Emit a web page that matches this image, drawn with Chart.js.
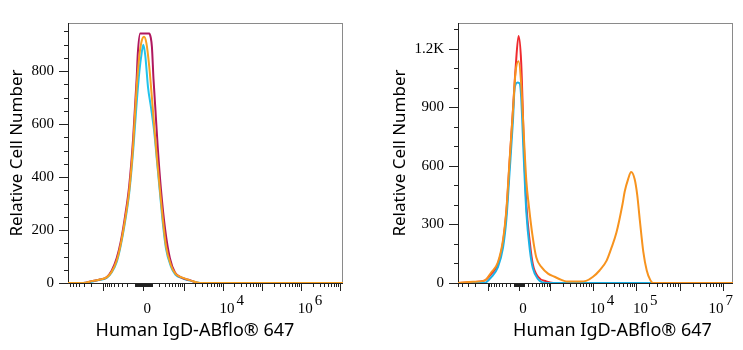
<!DOCTYPE html>
<html>
<head>
<meta charset="utf-8">
<script src="https://cdn.jsdelivr.net/npm/chart.js@4.4.1/dist/chart.umd.min.js"></script>
<style>
  body { margin: 0; background: #fff; width: 743px; height: 350px; overflow: hidden; }
  .pane { position: absolute; top: 0; height: 350px; }
  #left-pane { left: 0; width: 373px; }
  #right-pane { left: 373px; width: 370px; }
</style>
</head>
<body>
<div class="pane" id="left-pane"><canvas id="leftChart"></canvas></div>
<div class="pane" id="right-pane"><canvas id="rightChart"></canvas></div>
<script>
// 軸タイトル
const yTitle = "Relative Cell Number";
const xTitle = "Human IgD-ABflo® 647";

// x は双指数表示の座標 (1 = 1ディケード, 0 = 蛍光値0)
// 左図: 3本のヒストグラム
const leftMagentaX = [-1.93, -1.54, -1.29, -1.11, -0.93, -0.81, -0.68, -0.58, -0.47, -0.36, -0.26, -0.17, -0.14, -0.08, 0.15, 0.19, 0.22, 0.26, 0.31, 0.37, 0.45, 0.56, 0.68, 0.81, 0.98, 1.19, 1.43, 5.11];
const leftMagentaY = [0, 0, 8, 13, 23, 46, 94, 154, 249, 368, 546, 772, 868, 942, 942, 927, 892, 772, 654, 511, 356, 201, 94, 40, 20, 11, 0, 0];
const leftOrangeX = [-1.93, -1.54, -1.29, -1.11, -0.93, -0.81, -0.68, -0.58, -0.47, -0.36, -0.26, -0.17, -0.10, -0.04, 0.02, 0.08, 0.15, 0.22, 0.28, 0.35, 0.42, 0.50, 0.58, 0.70, 0.82, 1.00, 1.20, 1.45, 5.11];
const leftOrangeY = [0, 0, 8, 13, 22, 42, 85, 145, 236, 350, 520, 740, 860, 915, 930, 905, 820, 700, 590, 470, 360, 240, 140, 70, 35, 20, 10, 0, 0];
const leftCyanX = [-1.93, -1.54, -1.29, -1.11, -0.93, -0.81, -0.68, -0.58, -0.47, -0.36, -0.26, -0.17, -0.10, -0.04, 0.00, 0.05, 0.12, 0.20, 0.28, 0.35, 0.42, 0.50, 0.58, 0.70, 0.82, 1.00, 1.20, 1.45, 5.11];
const leftCyanY = [0, 0, 6, 12, 20, 40, 80, 140, 228, 340, 500, 680, 800, 870, 900, 860, 740, 660, 570, 460, 350, 225, 130, 65, 32, 18, 9, 0, 0];

// 右図: 3本のヒストグラム (オレンジは陽性ピークあり)
const rightRedX = [-1.41, -1.06, -0.80, -0.64, -0.49, -0.37, -0.29, -0.22, -0.14, -0.08, -0.01, 0.05, 0.11, 0.17, 0.25, 0.32, 0.44, 0.63, 0.79, 4.95];
const rightRedY = [0, 5, 12, 47, 95, 208, 369, 611, 885, 1095, 1264, 1130, 724, 401, 208, 95, 32, 8, 0, 0];
const rightOrangeX = [-1.41, -1.06, -0.80, -0.64, -0.49, -0.37, -0.29, -0.22, -0.14, -0.08, -0.01, 0.05, 0.11, 0.17, 0.23, 0.31, 0.40, 0.52, 0.67, 0.82, 0.98, 1.09, 1.41, 1.55, 1.71, 1.86, 2.02, 2.13, 2.25, 2.39, 2.44, 2.52, 2.59, 2.67, 2.73, 2.79, 2.87, 2.95, 3.03, 3.10, 4.95];
const rightOrangeY = [0, 6, 12, 55, 105, 220, 380, 620, 880, 1080, 1135, 1020, 760, 520, 390, 245, 130, 81, 48, 32, 16, 8, 8, 11, 32, 64, 113, 177, 258, 403, 467, 532, 568, 532, 451, 322, 161, 64, 16, 0, 0];
const rightCyanX = [-1.41, -0.80, -0.64, -0.49, -0.37, -0.29, -0.22, -0.14, -0.10, -0.03, 0.02, 0.05, 0.11, 0.17, 0.25, 0.32, 0.44, 0.63, 4.95];
const rightCyanY = [0, 0, 30, 80, 180, 330, 560, 830, 1000, 1027, 1020, 950, 640, 360, 170, 75, 20, 0, 0];

// y軸の目盛
const leftYTicks = [0, 200, 400, 600, 800];
const leftYLabels = ["0", "200", "400", "600", "800"];
const leftYMinor = [50, 100, 150, 250, 300, 350, 450, 500, 550, 650, 700, 750, 850, 900, 950];
const rightYTicks = [0, 300, 600, 900, 1200];
const rightYLabels = ["0", "300", "600", "900", "1.2K"];
const rightYMinor = [100, 200, 400, 500, 700, 800, 1000, 1100, 1300];

// x軸の目盛 (蛍光値)
const xMajorValues = [-1e4, -1e3, 0, 1e3, 1e4, 1e5, 1e6, 1e7];
const minorSteps = [2, 3, 4, 5, 6, 7, 8, 9];
const leftXLabelValues = [0, 1e4, 1e6];
const rightXLabelValues = [0, 1e4, 1e5, 1e7];

const tickFont = "15px 'Liberation Serif'";
const xTitleFont = "18px 'Noto Sans'";
const yTitleFont = "17px 'Noto Sans'";

// 双指数 (asinh) 変換
function biex(v, w) {
    return Math.asinh(v / w) / Math.LN10;
}

function minorValues() {
    const list = [];
    for (let k = 1; k <= 6; k++) {
        const base = Math.pow(10, k);
        const steps = k <= 2 ? [1, ...minorSteps] : minorSteps;
        steps.forEach(m => {
            list.push(m * base);
            if (k <= 3) list.push(-m * base);
        });
    }
    return list;
}

function toPoints(xs, ys) {
    return xs.map((x, i) => ({ x: x, y: ys[i] }));
}

// 枠・目盛線・x軸ラベル・軸タイトルを描くプラグイン
function axesPlugin(cfg) {
    return {
        id: "flowAxes",
        beforeDatasetsDraw(chart) {
            const { ctx, chartArea: a, scales: { x, y } } = chart;
            ctx.save();
            ctx.lineWidth = 1;
            ctx.strokeStyle = "#8a8a8a";
            ctx.strokeRect(a.left + 0.5, a.top + 0.5, a.right - a.left - 1, a.bottom - a.top);
            ctx.strokeStyle = "#222";
            ctx.beginPath();
            ctx.moveTo(a.left + 0.5, a.top);
            ctx.lineTo(a.left + 0.5, a.bottom + 0.5);
            ctx.lineTo(a.right, a.bottom + 0.5);
            ctx.stroke();

            // y軸目盛
            ctx.beginPath();
            cfg.yTicks.forEach(v => {
                const py = Math.round(y.getPixelForValue(v)) + 0.5;
                ctx.moveTo(a.left - 9, py);
                ctx.lineTo(a.left, py);
            });
            cfg.yMinor.forEach(v => {
                const py = Math.round(y.getPixelForValue(v)) + 0.5;
                ctx.moveTo(a.left - 4, py);
                ctx.lineTo(a.left, py);
            });
            // x軸目盛
            const draw = (v, len) => {
                const d = biex(v, cfg.w);
                if (d < x.min || d > x.max) return;
                const px = Math.round(x.getPixelForValue(d)) + 0.5;
                ctx.moveTo(px, a.bottom);
                ctx.lineTo(px, a.bottom + len);
            };
            xMajorValues.forEach(v => draw(v, 8));
            minorValues().forEach(v => draw(v, 4));
            ctx.stroke();
            ctx.restore();
        },
        afterDraw(chart) {
            const { ctx, chartArea: a, scales: { x } } = chart;
            ctx.save();
            ctx.fillStyle = "#000";
            ctx.font = tickFont;
            ctx.textBaseline = "alphabetic";
            cfg.xLabels.forEach(v => {
                const px = x.getPixelForValue(biex(v, cfg.w));
                if (v === 0) {
                    ctx.textAlign = "center";
                    ctx.fillText("0", px + 4, 313);
                    return;
                }
                const exp = String(Math.round(Math.log10(v)));
                const wBase = ctx.measureText("10").width;
                const wExp = ctx.measureText(exp).width;
                const total = wBase + 2 + wExp;
                let start = px + 9 - total / 2;
                if (start + total > a.right) start = a.right - total;
                ctx.textAlign = "left";
                ctx.fillText("10", start, 313);
                ctx.fillText(exp, start + wBase + 2, 305);
            });

            ctx.textAlign = "center";
            ctx.textBaseline = "middle";
            ctx.font = xTitleFont;
            ctx.fillText(xTitle, cfg.xTitleX, 331);
            ctx.font = yTitleFont;
            ctx.translate(cfg.yTitleX, (a.top + a.bottom) / 2);
            ctx.rotate(-Math.PI / 2);
            ctx.fillText(yTitle, 0, 0);
            ctx.restore();
        }
    };
}

function makeChart(id, cfg) {
    const ctx = document.getElementById(id).getContext("2d");
    return new Chart(ctx, {
        type: "line",
        data: {
            datasets: cfg.series.map(s => ({
                data: toPoints(s.x, s.y),
                borderColor: s.color,
                borderWidth: 2,
                pointRadius: 0,
                fill: false,
                cubicInterpolationMode: "monotone",
                order: s.order
            }))
        },
        options: {
            responsive: true,
            maintainAspectRatio: false,
            animation: false,
            layout: { padding: { top: 8, right: cfg.padRight, bottom: 67, left: 0 } },
            plugins: { legend: { display: false }, tooltip: { enabled: false } },
            scales: {
                x: { type: "linear", display: false, min: cfg.xRange[0], max: cfg.xRange[1] },
                y: {
                    type: "linear",
                    min: 0,
                    max: cfg.yMax,
                    afterFit: s => { s.width = cfg.yAxisWidth; },
                    afterBuildTicks: s => { s.ticks = cfg.yTicks.map(v => ({ value: v })); },
                    grid: { display: false, drawTicks: false },
                    border: { display: false },
                    ticks: {
                        padding: 14,
                        color: "#000",
                        font: { family: "'Liberation Serif'", size: 15 },
                        callback: (v) => cfg.yLabels[cfg.yTicks.indexOf(v)]
                    }
                }
            }
        },
        plugins: [axesPlugin(cfg)]
    });
}

makeChart("leftChart", {
    w: 186.5,
    xRange: [-1.926, 5.107],
    yMax: 982,
    yTicks: leftYTicks, yLabels: leftYLabels, yMinor: leftYMinor,
    xLabels: leftXLabelValues,
    yAxisWidth: 68, padRight: 30,
    xTitleX: 195, yTitleX: 17,
    series: [
        { x: leftCyanX, y: leftCyanY, color: "#22c3ec", order: 3 },
        { x: leftMagentaX, y: leftMagentaY, color: "#b0175e", order: 2 },
        { x: leftOrangeX, y: leftOrangeY, color: "#f7a021", order: 1 }
    ]
});

makeChart("rightChart", {
    w: 391,
    xRange: [-1.409, 4.942],
    yMax: 1331,
    yTicks: rightYTicks, yLabels: rightYLabels, yMinor: rightYMinor,
    xLabels: rightXLabelValues,
    yAxisWidth: 85, padRight: 10,
    xTitleX: 239.5, yTitleX: 27,
    series: [
        { x: rightRedX, y: rightRedY, color: "#ef2a2e", order: 3 },
        { x: rightCyanX, y: rightCyanY, color: "#1bb2e6", order: 2 },
        { x: rightOrangeX, y: rightOrangeY, color: "#f7931e", order: 1 }
    ]
});
</script>
</body>
</html>
